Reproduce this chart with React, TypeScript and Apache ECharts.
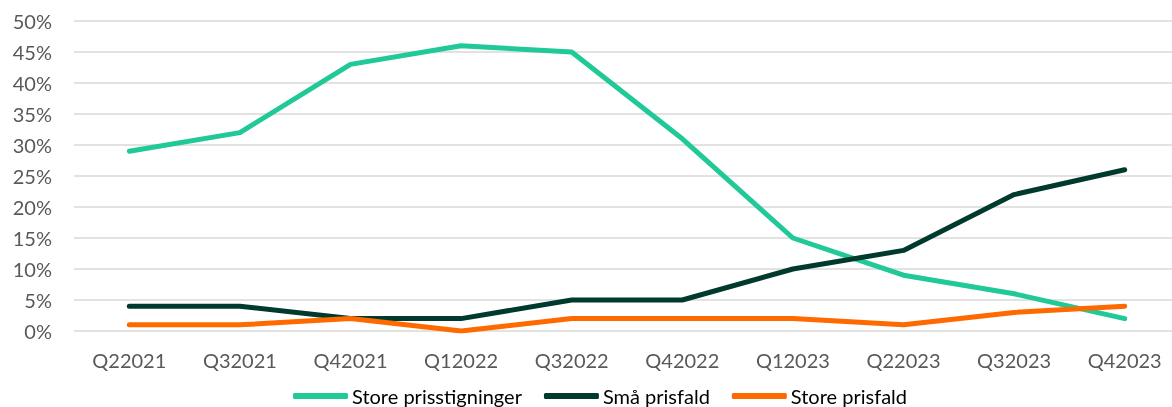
import React, { useEffect, useRef } from "react";
import * as echarts from "echarts";

const categories = ["Q22021", "Q32021", "Q42021", "Q12022", "Q32022", "Q42022", "Q12023", "Q22023", "Q32023", "Q42023"];
const storePrisstigninger = [29, 32, 43, 46, 45, 31, 15, 9, 6, 2];
const smaaPrisfald = [4, 4, 2, 2, 5, 5, 10, 13, 22, 26];
const storePrisfald = [1, 1, 2, 0, 2, 2, 2, 1, 3, 4];
const seriesNames = ["Store prisstigninger", "Små prisfald", "Store prisfald"];
const colors = ["#20C997", "#003A2E", "#FF6A00"];

export default function App() {
  const ref = useRef<HTMLDivElement>(null);
  useEffect(() => {
    if (!ref.current) return;
    const chart = echarts.init(ref.current, undefined, { renderer: "svg" });
    const font = "Lato, 'Open Sans', sans-serif";
    const mk = (name: string, data: number[], color: string) => ({
      name,
      type: "line",
      data,
      symbol: "none",
      lineStyle: { width: 5, color, cap: "round", join: "round" },
      itemStyle: { color },
    });
    chart.setOption({
      animation: false,
      grid: { left: 74, right: 10, top: 21, bottom: 76, containLabel: false },
      xAxis: {
        type: "category",
        data: categories,
        boundaryGap: true,
        axisLine: { show: false },
        axisTick: { show: false },
        axisLabel: { color: "#595959", fontSize: 20, fontFamily: font, margin: 19 },
      },
      yAxis: {
        type: "value",
        min: 0,
        max: 50,
        interval: 5,
        axisLine: { show: false },
        axisTick: { show: false },
        axisLabel: { color: "#595959", fontSize: 20, fontFamily: font, formatter: "{value}%", margin: 22 },
        splitLine: { lineStyle: { color: "#D9D9D9", width: 1.5 } },
      },
      legend: {
        left: 293,
        top: 386,
        padding: 0,
        icon: "roundRect",
        itemWidth: 55,
        itemHeight: 6,
        itemGap: 22,
        textStyle: { color: "#000", fontSize: 20, fontFamily: font, padding: [0, 0, 0, -1] },
        data: seriesNames,
      },
      series: [
        mk(seriesNames[0], storePrisstigninger, colors[0]),
        mk(seriesNames[1], smaaPrisfald, colors[1]),
        mk(seriesNames[2], storePrisfald, colors[2]),
      ],
    });
    return () => chart.dispose();
  }, []);
  return (
    <div
      ref={ref}
      style={{ position: "fixed", left: 0, top: 0, width: 1190, height: 407 }}
    />
  );
}
